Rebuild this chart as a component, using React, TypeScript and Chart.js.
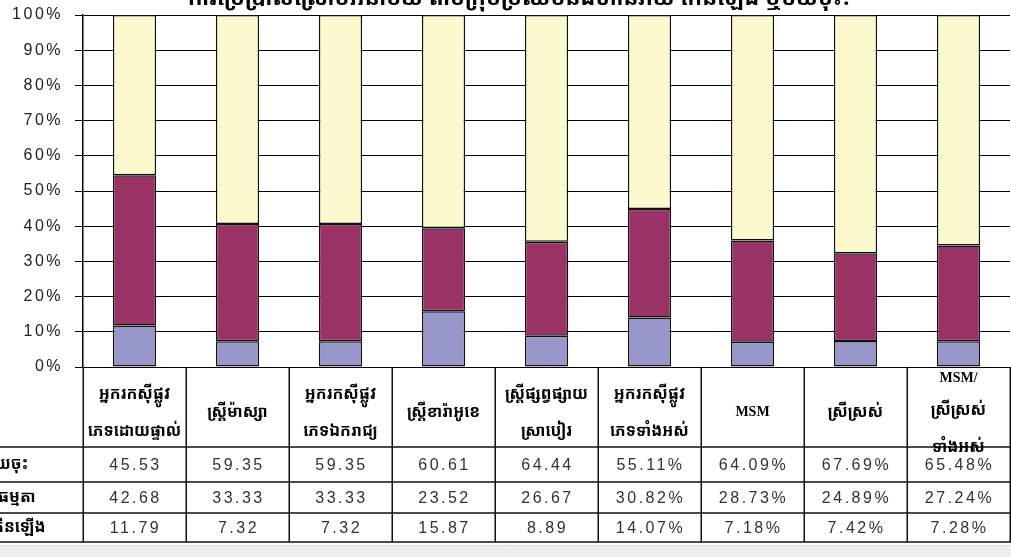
import React, { useEffect, useRef } from 'react';
import { Chart, registerables } from 'chart.js';

Chart.register(...registerables);

const titleText = 'ការប្រើប្រាស់ស្រោមអនាម័យ តាមក្រុមប្រឈមនឹងហានិភ័យ កើនឡើង ឬថយចុះ?';

const categories: string[][] = [
  ['អ្នករកស៊ីផ្លូវ', 'ភេទដោយផ្ទាល់'],
  ['ស្ត្រីម៉ាស្សា'],
  ['អ្នករកស៊ីផ្លូវ', 'ភេទឯករាជ្យ'],
  ['ស្ត្រីខារ៉ាអូខេ'],
  ['ស្ត្រីផ្សព្វផ្សាយ', 'ស្រាបៀរ'],
  ['អ្នករកស៊ីផ្លូវ', 'ភេទទាំងអស់'],
  ['MSM'],
  ['ស្រីស្រស់'],
  ['MSM/', 'ស្រីស្រស់', 'ទាំងអស់'],
];

const seriesNames = ['ថយចុះ', 'ធម្មតា', 'កើនឡើង'];

const decrease = [45.53, 59.35, 59.35, 60.61, 64.44, 55.11, 64.09, 67.69, 65.48];
const normal = [42.68, 33.33, 33.33, 23.52, 26.67, 30.82, 28.73, 24.89, 27.24];
const increase = [11.79, 7.32, 7.32, 15.87, 8.89, 14.07, 7.18, 7.42, 7.28];

// whether the table shows a % sign for this column
const showPercent = [false, false, false, false, false, true, true, true, true];

const yTicks = [0, 10, 20, 30, 40, 50, 60, 70, 80, 90, 100];

const KHMER_FONT = "'Khmer OS', 'Noto Sans Khmer', 'Khmer OS System', 'Noto Sans', sans-serif";

const tablePlugin = {
  id: 'dataTable',
  beforeDraw(chart: any) {
    const ctx = chart.ctx;
    ctx.save();
    ctx.fillStyle = '#ffffff';
    ctx.fillRect(0, 0, chart.width, chart.height);
    ctx.restore();
    ctx.letterSpacing = '2.5px';
  },
  afterDraw(chart: any) {
    const ctx = chart.ctx;
    const xs = chart.scales.x;
    const area = chart.chartArea;
    const n = categories.length;
    const colW = xs.width / n;
    const top = area.bottom;
    const rowLines = [top + 80, top + 115, top + 146, top + 175];
    const tableBottom = rowLines[3];

    ctx.save();
    ctx.letterSpacing = '0px';

    // title (cut off at top)
    ctx.fillStyle = '#000';
    ctx.font = `bold 22px ${KHMER_FONT}`;
    ctx.textAlign = 'center';
    ctx.textBaseline = 'alphabetic';
    ctx.fillText(titleText, 520, 5);

    // grid of the table
    ctx.strokeStyle = '#111';
    ctx.lineWidth = 1.5;
    ctx.beginPath();
    for (let i = 0; i <= n; i++) {
      const x = Math.round(xs.getPixelForValue(0) - colW / 2 + i * colW) + 0.25;
      ctx.moveTo(x, top);
      ctx.lineTo(x, tableBottom);
    }
    for (const y of rowLines) {
      ctx.moveTo(0, y);
      ctx.lineTo(chart.width, y);
    }
    ctx.stroke();

    // header labels
    ctx.textAlign = 'center';
    ctx.textBaseline = 'middle';
    categories.forEach((lines, i) => {
      const cx = xs.getPixelForValue(i);
      const isLatin = (s: string) => /^[A-Za-z/ ]+$/.test(s);
      let ys: number[];
      if (lines.length === 1) ys = [top + 45];
      else if (lines.length === 2) ys = [top + 27, top + 64];
      else ys = [top + 11, top + 43, top + 80];
      lines.forEach((t, k) => {
        if (isLatin(t)) {
          ctx.font = "bold 14px 'Liberation Serif', 'Times New Roman', serif";
        } else {
          ctx.font = `bold 16px ${KHMER_FONT}`;
        }
        ctx.fillStyle = '#000';
        ctx.fillText(t, cx, ys[k]);
      });
    });

    // data rows
    const rows = [decrease, normal, increase];
    const rowCenters = [
      (rowLines[0] + rowLines[1]) / 2,
      (rowLines[1] + rowLines[2]) / 2,
      (rowLines[2] + rowLines[3]) / 2,
    ];
    const labelX = [-16, -2, -12];
    rows.forEach((vals, r) => {
      // row label (cut at left edge)
      ctx.letterSpacing = '0px';
      ctx.textAlign = 'left';
      ctx.font = `bold 16px ${KHMER_FONT}`;
      ctx.fillStyle = '#000';
      ctx.fillText(seriesNames[r], labelX[r], rowCenters[r]);

      ctx.textAlign = 'center';
      ctx.font = "16px 'Liberation Sans', Arial, sans-serif";
      ctx.letterSpacing = '2.5px';
      ctx.fillStyle = '#333';
      vals.forEach((v, i) => {
        const cx = xs.getPixelForValue(i);
        const s = v.toFixed(2) + (showPercent[i] ? '%' : '');
        ctx.fillText(s, cx + 1, rowCenters[r] + 1);
      });
    });

    // light band at the bottom
    ctx.letterSpacing = '0px';
    ctx.fillStyle = '#eeeeee';
    ctx.fillRect(0, tableBottom + 3, chart.width, chart.height - tableBottom - 3);
    ctx.strokeStyle = '#dddddd';
    ctx.lineWidth = 1;
    ctx.beginPath();
    ctx.moveTo(0, tableBottom + 3.5);
    ctx.lineTo(chart.width, tableBottom + 3.5);
    ctx.stroke();
    ctx.restore();
  },
};

export default function App() {
  const ref = useRef<HTMLCanvasElement | null>(null);

  useEffect(() => {
    if (!ref.current) return;
    const labels = categories.map((c) => c.join(' '));
    const barStyle = {
      borderColor: '#111111',
      borderWidth: 1.5,
      borderSkipped: false,
    };
    const chart = new Chart(ref.current, {
      type: 'bar',
      data: {
        labels,
        datasets: [
          { label: seriesNames[2], data: increase, backgroundColor: '#9797CB', ...barStyle },
          { label: seriesNames[1], data: normal, backgroundColor: '#993366', ...barStyle },
          { label: seriesNames[0], data: decrease, backgroundColor: '#FCF9CF', ...barStyle },
        ],
      },
      options: {
        responsive: false,
        animation: false,
        devicePixelRatio: 1,
        layout: { padding: { top: 15, bottom: 190, left: 0, right: 1 } },
        plugins: {
          legend: { display: false },
          title: { display: false },
          tooltip: { enabled: false },
        },
        datasets: {
          bar: { categoryPercentage: 1, barPercentage: 0.42 },
        },
        scales: {
          x: {
            stacked: true,
            display: false,
          },
          y: {
            stacked: true,
            min: 0,
            max: 100,
            afterFit(scale: any) {
              scale.width = 83;
              scale.paddingTop = 0;
              scale.paddingBottom = 0;
            },
            afterBuildTicks(scale: any) {
              scale.ticks = yTicks.map((v) => ({ value: v }));
            },
            ticks: {
              color: '#222',
              padding: 12,
              font: { family: "'Liberation Sans', Arial, sans-serif", size: 16 },
              callback: (v: any) => `${v}%`,
            },
            grid: {
              color: '#000',
              lineWidth: 1,
              tickLength: 8,
              drawTicks: true,
            },
            border: { display: true, color: '#000', width: 1.5 },
          },
        },
      },
      plugins: [tablePlugin],
    });
    return () => chart.destroy();
  }, []);

  return (
    <div style={{ position: 'absolute', left: 0, top: 0, width: 1011, height: 557 }}>
      <canvas ref={ref} width={1011} height={557} style={{ display: 'block' }} />
    </div>
  );
}
